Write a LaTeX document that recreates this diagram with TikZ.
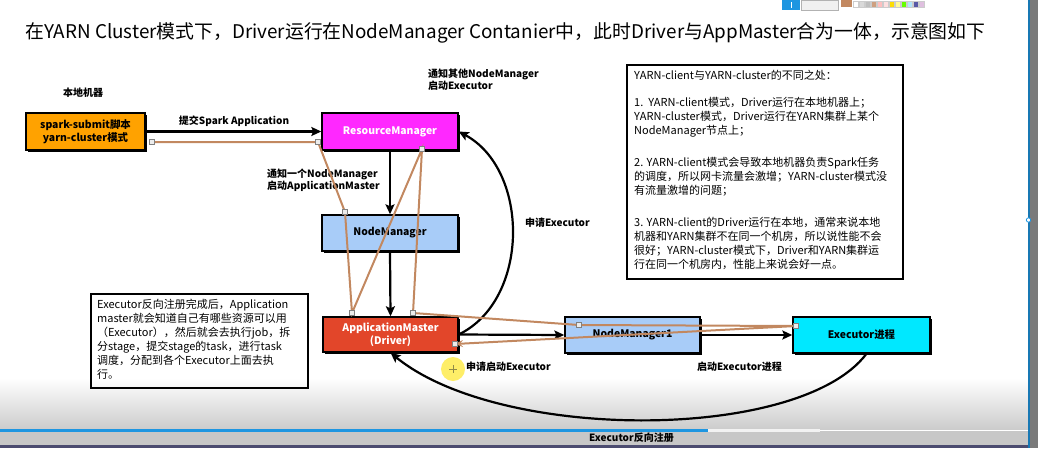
\documentclass[tikz,border=0pt]{standalone}
\usepackage{fontspec}
\setmainfont{Noto Sans CJK SC}
\usetikzlibrary{arrows.meta,shadows,calc}
\definecolor{cOrange}{RGB}{255,162,0}
\definecolor{cMagenta}{RGB}{255,40,255}
\definecolor{cLBlue}{RGB}{168,204,248}
\definecolor{cRed}{RGB}{226,70,42}
\definecolor{cCyan}{RGB}{0,232,255}
\definecolor{cBrown}{RGB}{194,136,96}
\definecolor{cUIBlue}{RGB}{30,150,225}
\begin{document}
\begin{tikzpicture}[x=1pt,y=-1pt,
  box/.style={draw=black, line width=1.4pt, inner sep=0pt,
    general shadow={fill=black, shadow xshift=1.6pt, shadow yshift=-1.6pt},
    font=\fontsize{10.4}{12.5}\selectfont\bfseries, align=center},
  lbl/.style={font=\fontsize{10}{12}\selectfont\bfseries, inner sep=0pt},
  note/.style={font=\fontsize{11}{13}\selectfont, inner sep=0pt, anchor=west, text height=8.5pt, text depth=2pt},
  arr/.style={draw=black, line width=2.2pt, -{Stealth[length=10pt,width=9pt,inset=2pt]}},
  trace/.style={draw=cBrown, line width=2pt},
  mk/.style={draw=gray, fill=white!85!gray, line width=0.5pt, minimum size=5pt, inner sep=0pt}
]
\useasboundingbox (0,0) rectangle (1038,448);
% --- screen background artefacts ---
\shade[top color=white, bottom color=black!20] (0,378) rectangle (1029,429);
\fill[black!22] (0,431) rectangle (1029,445);
\fill[cUIBlue] (0,428.5) rectangle (708,431.5);
\fill[white!90!gray] (708,428.5) rectangle (820,431.5);
\fill[black!65!blue!40!gray] (0,445) rectangle (1038,448);
\fill[black!52] (1029,0) rectangle (1038,448);
\fill[cUIBlue!80!black] (1027.5,0) rectangle (1029.5,448);
\filldraw[draw=cUIBlue, fill=white, line width=0.8pt] (1028.5,220) circle (2.2);
% toolbar
\fill[cUIBlue] (782,0) rectangle (800,10);
\draw[white, line width=1pt] (791,2) -- (791,8);
\filldraw[draw=black!30, fill=black!6] (801,0) rectangle (838,10);
\fill[cBrown] (841,0) rectangle (852,7);
\foreach \c [count=\k] in {white,black!15,black!25,cBrown!80,pink,pink!50,yellow!80!orange,yellow!40,green!60!yellow,cyan!30,blue!30!gray,violet!25}
  \filldraw[draw=black!20, fill=\c, line width=0.3pt] ({847+6*\k},1) rectangle ({852.5+6*\k},7);
% --- title ---
\node[anchor=west, inner sep=0pt, font=\fontsize{18.85}{21}\selectfont] (title) at (25,33)
  {在YARN Cluster模式下，Driver运行在NodeManager Contanier中，此时Driver与AppMaster合为一体，示意图如下};
% --- boxes ---
\node[box, fill=cOrange, minimum width=119pt, minimum height=37pt] (spark) at (85.5,131.5) {spark-submit脚本\\yarn-cluster模式};
\node[box, fill=cMagenta, text=white, minimum width=136pt, minimum height=37pt] (RM) at (390,131.5) {ResourceManager};
\node[box, fill=cLBlue, minimum width=136pt, minimum height=36pt] (NM) at (390,233) {NodeManager};
\node[box, fill=cRed, text=white, minimum width=135pt, minimum height=35pt] (AM) at (390.5,334.5) {ApplicationMaster\\(Driver)};
\node[box, fill=cLBlue, minimum width=135pt, minimum height=36pt] (NM1) at (632.5,335) {NodeManager1};
\node[box, fill=cCyan, minimum width=137pt, minimum height=36pt] (EX) at (861.5,335) {Executor进程};
% --- labels ---
\node[lbl] (local) at (83,93) {本地机器};
\node[lbl] (submit) at (234,121) {提交Spark Application};
\node[lbl, anchor=west, align=left] (notifyother) at (428,79.5) {通知其他NodeManager\\启动Executor};
\node[lbl, anchor=west, align=left] (notifyone) at (267,180.5) {通知一个NodeManager\\启动ApplicationMaster};
\node[lbl, anchor=west] (applyex) at (525,223) {申请Executor};
\node[lbl, anchor=west] (applystart) at (466,367) {申请启动Executor};
\node[lbl, anchor=west] (startex) at (697,367) {启动Executor进程};
\node[lbl, anchor=west] (reg) at (589,438) {Executor反向注册};
% --- notes ---
\node[draw=black, line width=1.3pt, minimum width=276pt, minimum height=214pt, inner sep=0pt] (rnote) at (765,172) {};
\foreach \yy/\tt [count=\i] in {
  76/{YARN-client与YARN-cluster的不同之处：},
  103/{1.\ \ YARN-client模式，Driver运行在本地机器上；},
  117/{YARN-cluster模式，Driver运行在YARN集群上某个},
  131/{NodeManager节点上；},
  163/{2. YARN-client模式会导致本地机器负责Spark任务},
  177/{的调度，所以网卡流量会激增；YARN-cluster模式没},
  191/{有流量激增的问题；},
  223/{3. YARN-client的Driver运行在本地，通常来说本地},
  237/{机器和YARN集群不在同一个机房，所以说性能不会},
  251/{很好；YARN-cluster模式下，Driver和YARN集群运},
  265/{行在同一个机房内，性能上来说会好一点。}}
  \node[note] (r\i) at (634,\yy) {\tt};
\node[draw=black, line width=1.3pt, minimum width=217pt, minimum height=94pt, inner sep=0pt] (lnote) at (199.5,341) {};
\foreach \yy/\tt [count=\i] in {
  305/{Executor反向注册完成后，Application},
  319/{master就会知道自己有哪些资源可以用},
  333/{（Executor），然后就会去执行job，拆},
  347/{分stage，提交stage的task，进行task},
  361/{调度，分配到各个Executor上面去执},
  375/{行。}}
  \node[note] (l\i) at (97,\yy) {\tt};
% --- arrows ---
\draw[arr] (spark.east) -- (RM.west);
\draw[arr] (RM.south) -- (NM.north);
\draw[arr] (NM.south) -- (AM.north);
\draw[arr] (AM.east) -- (NM1.west);
\draw[arr] (NM1.east) -- (EX.west);
\draw[arr] (AM.east) .. controls (530,300) and (530,170) .. (RM.east);
\draw[arr] ($(EX.south)+(5,0)$) .. controls (800,442) and (500,442) .. (AM.south);
% --- brown trace ---
\coordinate (p1) at (152,142);
\coordinate (p2) at (318,142);
\coordinate (p3) at (345,212);
\coordinate (p4) at (352,313);
\coordinate (p5) at (422,149);
\coordinate (p6) at (413,313);
\coordinate (p7) at (579,325);
\coordinate (p8) at (796,326);
\coordinate (p9) at (455,344);
\draw[trace, -{Stealth[length=8pt,width=7pt,inset=3pt]}] (p1) -- (p2) -- (p3) -- (p4) -- (p5) -- (p6) -- (p7) -- (p8) -- (p9);
\foreach \p in {p1,p2,p3,p4,p5,p6,p7,p8,p9}
  \node[mk] at (\p) {};
% --- cursor highlight ---
\fill[yellow!85!orange, opacity=0.6] (453,369) circle (12);
\draw[black!50!yellow, line width=0.6pt] (449,369) -- (457,369) (453,365) -- (453,373);
\end{tikzpicture}
\end{document}
